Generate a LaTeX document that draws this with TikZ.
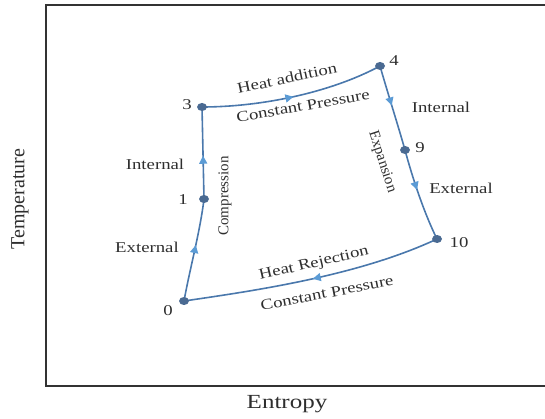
\documentclass[tikz,border=0pt]{standalone}
\usepackage{fontspec}
\setmainfont{Liberation Serif}
\usepackage{graphicx}
\usetikzlibrary{arrows.meta,decorations.markings,shapes.geometric}
\definecolor{cyc}{HTML}{4A78AC}
\definecolor{arr}{HTML}{5B9BD5}
\definecolor{dotc}{HTML}{4A6A92}
\definecolor{txt}{HTML}{2E2E2E}
\newcommand\wide[1]{\scalebox{1.25}[1]{#1}}
\tikzset{
  cycline/.style={draw=cyc, line width=1.6pt},
  midarrow/.style={postaction={decorate}, decoration={markings,
      mark=at position #1 with {\arrow[arr]{Triangle[length=8pt,width=8pt]}}}},
  ptdot/.style={ellipse, fill=dotc, minimum width=10pt, minimum height=8pt, inner sep=0pt},
  lbl/.style={font=\fontsize{15}{17}\selectfont, text=txt, inner sep=0pt},
  axlbl/.style={font=\fontsize{20}{22}\selectfont, text=txt, inner sep=0pt},
  framel/.style={draw=black!80, line width=1.6pt}
}
\begin{document}
\begin{tikzpicture}[x=1pt,y=-1pt]
\useasboundingbox (0,0) rectangle (545,419);
% frame
\coordinate (tl) at (46,5);
\coordinate (bl) at (46,386);
\coordinate (tr) at (547,5);
\coordinate (br) at (547,386);
\draw[framel] (tr) -- (tl) -- (bl) -- (br);
% state points
\coordinate (p0) at (184,301);
\coordinate (p1) at (204,199);
\coordinate (p3) at (202,107);
\coordinate (p4) at (380,66);
\coordinate (p9) at (405,150);
\coordinate (p10) at (437,239);
% cycle
\draw[cycline, midarrow=0.55] (p0) .. controls (190,268) and (200,232) .. (p1);
\draw[cycline, midarrow=0.47] (p1) -- (p3);
\draw[cycline, midarrow=0.5] (p3) .. controls (260,107) and (330,93) .. (p4);
\draw[cycline, midarrow=0.47] (p4) .. controls (388,94) and (397,122) .. (p9);
\draw[cycline, midarrow=0.44] (p9) .. controls (413,180) and (425,215) .. (p10);
\draw[cycline, midarrow=0.5] (p10) .. controls (360,275) and (260,290) .. (p0);
% dots
\node[ptdot] (d0) at (p0) {};
\node[ptdot] (d1) at (p1) {};
\node[ptdot] (d3) at (p3) {};
\node[ptdot] (d4) at (p4) {};
\node[ptdot] (d9) at (p9) {};
\node[ptdot] (d10) at (p10) {};
% point labels
\node[lbl] (l0) at (168,311) {\wide{0}};
\node[lbl] (l1) at (183,200) {\wide{1}};
\node[lbl] (l3) at (187,105) {\wide{3}};
\node[lbl] (l4) at (394,61) {\wide{4}};
\node[lbl] (l9) at (420,148) {\wide{9}};
\node[lbl] (l10) at (459,243) {\wide{10}};
% process labels
\node[lbl] (inl) at (155,164) {\wide{Internal}};
\node[lbl] (exl) at (147,247) {\wide{External}};
\node[lbl] (inr) at (441,107) {\wide{Internal}};
\node[lbl] (exr) at (461,188) {\wide{External}};
\node[lbl, rotate=90] (comp) at (225,196) {Compression};
\node[lbl, rotate=-72] (expn) at (382,162) {Expansion};
\node[lbl, rotate=12] (hadd) at (287,78) {\wide{Heat addition}};
\node[lbl, rotate=10] (cpt) at (303,106) {\wide{Constant Pressure}};
\node[lbl, rotate=13] (hrej) at (314,264) {\wide{Heat Rejection}};
\node[lbl, rotate=11] (cpb) at (327,293) {\wide{Constant Pressure}};
% axes labels
\node[axlbl, rotate=90] (ylab) at (20,199) {Temperature};
\node[axlbl] (xlab) at (287,404) {\wide{Entropy}};
\end{tikzpicture}
\end{document}
